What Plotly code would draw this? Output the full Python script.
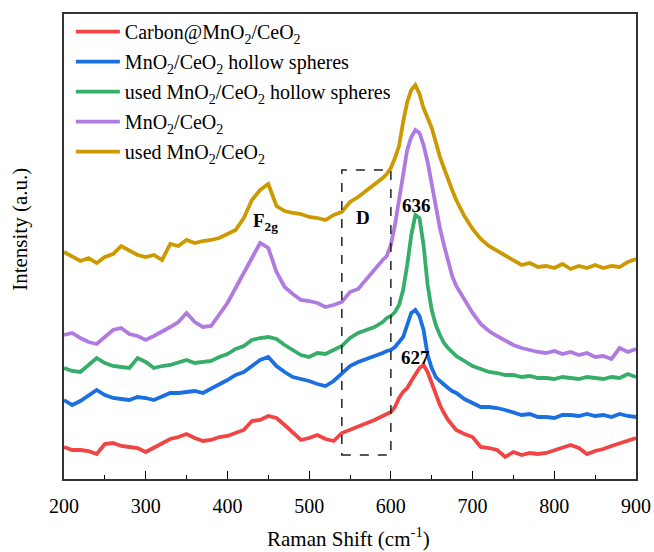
import plotly.graph_objects as go

raman_shift = [200, 210, 220, 230, 240, 250, 260, 270, 280, 290, 300, 310, 320, 330, 340, 350, 360, 370, 380, 390,
               400, 410, 420, 430, 440, 450, 460, 470, 480, 490, 500, 510, 520, 530, 540, 550, 560, 570, 580, 590,
               595, 600, 605, 610, 615, 620, 625, 630, 635, 640, 645, 650, 655, 660, 665, 670, 675, 680,
               690, 700, 710, 720, 730, 740, 750, 760, 770, 780, 790, 800, 810, 820, 830, 840, 850, 860, 870, 880, 890, 900]

carbon_mno2_ceo2 = [32, 29, 29, 28, 25, 35, 36, 33, 32, 31, 27, 31, 35, 40, 42, 45, 41, 38, 39, 42,
                    43, 46, 49, 58, 59, 63, 61, 54, 47, 39, 41, 44, 40, 38, 46, 49, 53, 56, 59, 63,
                    65, 67, 72, 81, 87, 91, 98, 105, 111, 114, 107, 96, 84, 74, 66, 59, 54, 49,
                    45, 42, 32, 31, 29, 22, 27, 24, 26, 25, 26, 29, 32, 34, 31, 25, 28, 30, 33, 36, 39, 41]

hollow_spheres = [79, 74, 78, 83, 89, 84, 81, 80, 79, 82, 81, 79, 82, 86, 86, 87, 88, 86, 90, 95,
                  99, 104, 107, 113, 119, 122, 113, 107, 102, 100, 98, 95, 93, 98, 106, 113, 117, 120, 122, 126,
                  128, 129, 132, 137, 142, 154, 166, 169, 163, 149, 124, 111, 102, 98, 94, 91, 88, 86,
                  80, 76, 72, 72, 71, 69, 66, 64, 65, 62, 62, 61, 64, 64, 63, 65, 63, 64, 62, 65, 63, 62]

used_hollow_spheres = [111, 108, 107, 114, 121, 116, 113, 112, 111, 121, 117, 111, 113, 114, 117, 119, 116, 117, 118, 122,
                       125, 130, 133, 139, 141, 142, 140, 134, 129, 124, 122, 126, 125, 129, 133, 141, 146, 149, 152, 157,
                       161, 163, 167, 174, 189, 214, 244, 264, 261, 234, 194, 169, 154, 144, 136, 131, 127, 123,
                       118, 113, 110, 107, 106, 104, 104, 102, 103, 101, 101, 100, 102, 101, 100, 102, 101, 100, 102, 101, 105, 102]

mno2_ceo2 = [144, 146, 141, 137, 135, 142, 149, 151, 145, 143, 139, 143, 147, 152, 157, 166, 157, 152, 153, 164,
             176, 191, 207, 221, 236, 231, 207, 192, 185, 179, 178, 176, 172, 174, 177, 187, 190, 200, 210, 219,
             223, 234, 254, 279, 302, 329, 342, 349, 346, 334, 317, 294, 269, 251, 234, 217, 203, 193,
             179, 166, 155, 148, 143, 138, 134, 131, 129, 127, 126, 128, 125, 127, 124, 126, 122, 123, 120, 131, 127, 130]

used_mno2_ceo2 = [227, 223, 218, 221, 216, 222, 225, 233, 229, 224, 222, 224, 219, 235, 233, 239, 236, 238, 239, 241,
                  245, 249, 261, 279, 289, 295, 273, 268, 266, 265, 262, 261, 259, 264, 267, 277, 282, 288, 294, 301,
                  305, 311, 321, 333, 357, 377, 389, 394, 385, 371, 361, 351, 337, 322, 311, 299, 289, 279,
                  263, 250, 240, 233, 228, 223, 219, 214, 216, 212, 213, 211, 215, 210, 213, 211, 214, 211, 213, 212, 217, 220]

series_names = ["Carbon@MnO<sub>2</sub>/CeO<sub>2</sub>",
                "MnO<sub>2</sub>/CeO<sub>2</sub> hollow spheres",
                "used MnO<sub>2</sub>/CeO<sub>2</sub> hollow spheres",
                "MnO<sub>2</sub>/CeO<sub>2</sub>",
                "used MnO<sub>2</sub>/CeO<sub>2</sub>"]
series_values = [carbon_mno2_ceo2, hollow_spheres, used_hollow_spheres, mno2_ceo2, used_mno2_ceo2]
series_colors = ["#f14545", "#1b6fe0", "#36ad69", "#b07be0", "#cc9a00"]

x_ticks = [200, 300, 400, 500, 600, 700, 800, 900]
d_band = [540, 600]
d_box_y = [24, 309]

labels = [("F<sub>2g</sub>", 447, 257), ("D", 566, 262), ("636", 631, 274), ("627", 630, 122)]

FONT = "Times New Roman, Liberation Serif, serif"

fig = go.Figure()
for i, (name, vals, col) in enumerate(zip(series_names, series_values, series_colors)):
    fig.add_trace(go.Scatter(x=raman_shift, y=vals, mode="lines", name=name,
                             legendgroup=str(i),
                             line=dict(color=col, width=3.8)))

fig.add_shape(type="rect", xref="x", yref="y", x0=d_band[0], x1=d_band[1], y0=d_box_y[0], y1=d_box_y[1],
              line=dict(color="#222222", width=1.5, dash="dash"))

for txt, lx, ly in labels:
    fig.add_annotation(x=lx, y=ly, xref="x", yref="y", text="<b>" + txt + "</b>", showarrow=False,
                       xanchor="center", yanchor="middle",
                       font=dict(family=FONT, size=19, color="black"))

fig.add_annotation(x=0.498, y=-0.126, xref="paper", yref="paper", text="Raman Shift (cm<sup>-1</sup>)",
                   showarrow=False, xanchor="center", yanchor="middle",
                   font=dict(family=FONT, size=21, color="black"))
fig.add_annotation(x=-0.077, y=0.538, xref="paper", yref="paper", text="Intensity (a.u.)", textangle=-90,
                   showarrow=False, xanchor="center", yanchor="middle",
                   font=dict(family=FONT, size=21, color="black"))

fig.update_xaxes(range=[200, 900], tickvals=x_ticks, ticks="inside", ticklen=8, tickwidth=1.3,
                 tickcolor="black", showline=True, linecolor="#333333", linewidth=1.5, mirror=True,
                 showgrid=False, zeroline=False, ticklabelstandoff=8,
                 minor=dict(dtick=50, ticks="inside", ticklen=4, tickwidth=1.3, tickcolor="black"),
                 tickfont=dict(family=FONT, size=20, color="black"))
fig.update_yaxes(range=[0, 465], showticklabels=False, ticks="", showline=True, linecolor="#333333",
                 linewidth=1.5, mirror=True, showgrid=False, zeroline=False)

fig.update_layout(width=654, height=552, margin=dict(l=64, r=18, t=14, b=73, autoexpand=False),
                  plot_bgcolor="white", paper_bgcolor="white",
                  legend=dict(x=0.012, y=1.004, xanchor="left", yanchor="top", bgcolor="rgba(0,0,0,0)",
                              font=dict(family=FONT, size=20, color="black"), tracegroupgap=1,
                              itemwidth=44),
                  showlegend=True)

fig.write_html("out.html", config={"displayModeBar": False},
               post_script="document.body.style.margin='0';document.body.style.padding='0';")
